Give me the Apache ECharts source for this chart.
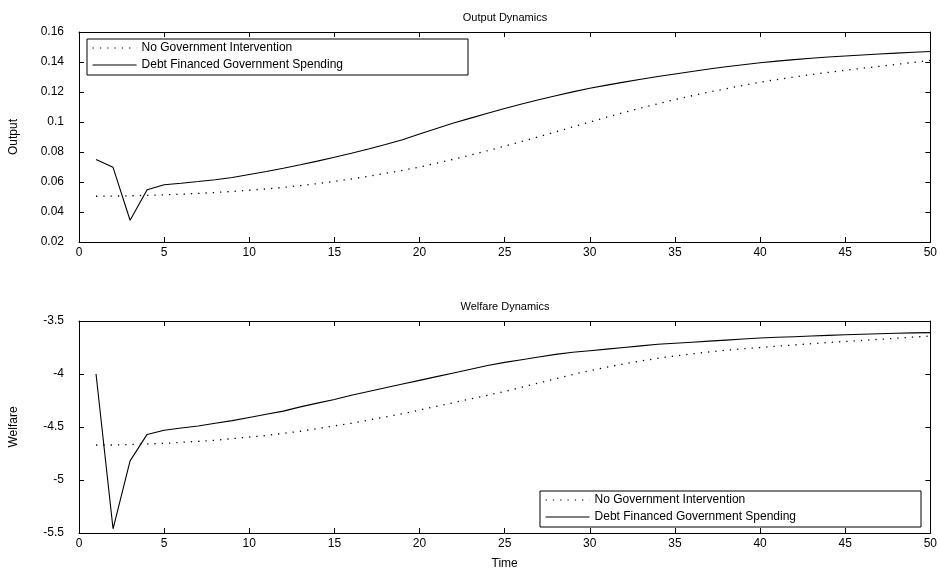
<!DOCTYPE html>
<html>
<head>
<meta charset="utf-8">
<script src="https://cdn.jsdelivr.net/npm/echarts@6.0.0/dist/echarts.min.js"></script>
<style>
  html, body { margin: 0; padding: 0; background: #fff; }
  #chart { width: 940px; height: 572px; }
</style>
</head>
<body>
<div id="chart"></div>
<script>
const periods = Array.from({ length: 50 }, (_, i) => i + 1);
const seriesNames = ["No Government Intervention", "Debt Financed Government Spending"];

const outputNoGov = [
  0.0505, 0.0506, 0.0508, 0.0511, 0.0515, 0.0519, 0.0524, 0.0530, 0.0537, 0.0545,
  0.0554, 0.0564, 0.0576, 0.0589, 0.0604, 0.0620, 0.0638, 0.0657, 0.0678, 0.0700,
  0.0725, 0.0752, 0.0780, 0.0809, 0.0839, 0.0870, 0.0902, 0.0934, 0.0967, 0.1000,
  0.1032, 0.1063, 0.1093, 0.1122, 0.1149, 0.1175, 0.1199, 0.1222, 0.1244, 0.1265,
  0.1283, 0.1300, 0.1316, 0.1331, 0.1345, 0.1358, 0.1371, 0.1384, 0.1397, 0.1410
];
const outputDebt = [
  0.0750, 0.0698, 0.0345, 0.0548, 0.0582, 0.0592, 0.0603, 0.0615, 0.0630, 0.0650,
  0.0670, 0.0692, 0.0715, 0.0739, 0.0765, 0.0792, 0.0820, 0.0850, 0.0882, 0.0920,
  0.0957, 0.0993, 0.1026, 0.1058, 0.1090, 0.1120, 0.1148, 0.1175, 0.1201, 0.1225,
  0.1246, 0.1266, 0.1285, 0.1303, 0.1320, 0.1337, 0.1353, 0.1368, 0.1382, 0.1395,
  0.1406, 0.1416, 0.1425, 0.1433, 0.1440, 0.1447, 0.1453, 0.1459, 0.1465, 0.1470
];
const welfareNoGov = [
  -4.670, -4.670, -4.665, -4.660, -4.655, -4.645, -4.635, -4.625, -4.610, -4.595,
  -4.580, -4.560, -4.540, -4.515, -4.490, -4.465, -4.435, -4.405, -4.375, -4.340,
  -4.305, -4.270, -4.235, -4.200, -4.165, -4.125, -4.085, -4.045, -4.005, -3.968,
  -3.935, -3.905, -3.877, -3.852, -3.830, -3.810, -3.792, -3.776, -3.762, -3.750,
  -3.738, -3.726, -3.714, -3.703, -3.693, -3.683, -3.673, -3.663, -3.652, -3.642
];
const welfareDebt = [
  -4.000, -5.460, -4.820, -4.570, -4.530, -4.510, -4.490, -4.465, -4.440, -4.410,
  -4.380, -4.350, -4.310, -4.275, -4.240, -4.200, -4.165, -4.130, -4.095, -4.060,
  -4.025, -3.990, -3.955, -3.920, -3.890, -3.865, -3.840, -3.815, -3.795, -3.780,
  -3.765, -3.750, -3.735, -3.720, -3.710, -3.700, -3.690, -3.680, -3.670, -3.660,
  -3.654, -3.648, -3.642, -3.636, -3.630, -3.625, -3.620, -3.616, -3.612, -3.610
];

const FONT = "Liberation Sans, Arial, sans-serif";
const pairs = (ys) => periods.map((t, i) => [t, ys[i]]);

const dottedStyle = { color: "#000", width: 1.3, type: [1.3, 6] };
const solidStyle = { color: "#000", width: 1.1, type: "solid" };

function xAxes(gridIndex, withName) {
  const base = {
    gridIndex, type: "value", min: 0, max: 50, interval: 5,
    splitLine: { show: false },
    axisLine: { show: true, onZero: false, lineStyle: { color: "#000", width: 1 } },
    axisTick: { show: true, inside: true, length: 5, lineStyle: { color: "#000" } }
  };
  return [
    {
      ...base, position: "bottom",
      axisLabel: { color: "#000", fontFamily: FONT, fontSize: 12, margin: 5 },
      name: withName ? "Time" : "",
      nameLocation: "middle", nameGap: 25,
      nameTextStyle: { color: "#000", fontFamily: FONT, fontSize: 12 }
    },
    { ...base, position: "top", axisLabel: { show: false } }
  ];
}

function yAxes(gridIndex, min, max, interval, name) {
  const base = {
    gridIndex, type: "value", min, max, interval,
    splitLine: { show: false },
    axisLine: { show: true, onZero: false, lineStyle: { color: "#000", width: 1 } },
    axisTick: { show: true, inside: true, length: 5, lineStyle: { color: "#000" } }
  };
  return [
    {
      ...base, position: "left",
      axisLabel: { color: "#000", fontFamily: FONT, fontSize: 12, margin: 15 },
      name, nameLocation: "middle", nameGap: 59,
      nameTextStyle: { color: "#000", fontFamily: FONT, fontSize: 12 }
    },
    { ...base, position: "right", axisLabel: { show: false } }
  ];
}

function legend(left, top) {
  return {
    orient: "vertical", left, top,
    data: seriesNames,
    itemWidth: 44, itemHeight: 14, itemGap: 5,
    padding: [3, 125, 4, 5],
    borderColor: "#000", borderWidth: 1,
    backgroundColor: "#fff",
    selectedMode: false,
    itemStyle: { opacity: 0, color: "transparent", borderWidth: 0 },
    lineStyle: { width: 1.1 },
    textStyle: { color: "#000", fontFamily: FONT, fontSize: 12 }
  };
}

const chart = echarts.init(document.getElementById("chart"), null, { renderer: "canvas" });
chart.setOption({
  animation: false,
  backgroundColor: "#fff",
  title: [
    { text: "Output Dynamics", left: 500, top: 7, textAlign: "center",
      textStyle: { color: "#000", fontFamily: FONT, fontSize: 11, fontWeight: "normal" } },
    { text: "Welfare Dynamics", left: 500, top: 296, textAlign: "center",
      textStyle: { color: "#000", fontFamily: FONT, fontSize: 11, fontWeight: "normal" } }
  ],
  legend: [legend(87, 39), legend(540, 491)],
  grid: [
    { left: 78, right: 9, top: 32, height: 210 },
    { left: 78, right: 9, top: 321, height: 212 }
  ],
  xAxis: [...xAxes(0, false), ...xAxes(1, true)],
  yAxis: [...yAxes(0, 0.02, 0.16, 0.02, "Output"), ...yAxes(1, -5.5, -3.5, 0.5, "Welfare")],
  series: [
    { name: seriesNames[0], type: "line", xAxisIndex: 0, yAxisIndex: 0, symbol: "none",
      lineStyle: dottedStyle, itemStyle: { color: "#000" }, data: pairs(outputNoGov) },
    { name: seriesNames[1], type: "line", xAxisIndex: 0, yAxisIndex: 0, symbol: "none",
      lineStyle: solidStyle, itemStyle: { color: "#000" }, data: pairs(outputDebt) },
    { name: seriesNames[0], type: "line", xAxisIndex: 2, yAxisIndex: 2, symbol: "none",
      lineStyle: dottedStyle, itemStyle: { color: "#000" }, data: pairs(welfareNoGov) },
    { name: seriesNames[1], type: "line", xAxisIndex: 2, yAxisIndex: 2, symbol: "none",
      lineStyle: solidStyle, itemStyle: { color: "#000" }, data: pairs(welfareDebt) }
  ]
});
</script>
</body>
</html>
